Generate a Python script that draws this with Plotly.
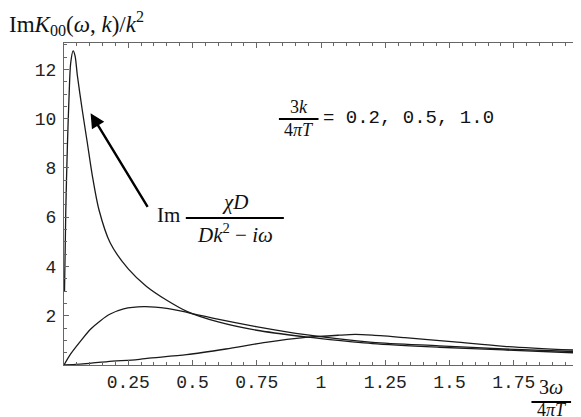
import plotly.graph_objects as go

# Im K00 / k^2 against 3w/(4 pi T)
q02_w = [0.002, 0.007, 0.0135, 0.02, 0.026, 0.0355, 0.043, 0.052, 0.071, 0.091,
         0.11, 0.136, 0.18, 0.25, 0.32, 0.40, 0.48, 0.60, 0.75, 0.94,
         1.0, 1.2, 1.46, 1.71, 2.0]
q02_im = [3.0, 6.3, 9.0, 11.0, 12.25, 12.75, 12.55, 11.75, 10.35, 9.0,
          7.7, 6.3, 4.95, 3.9, 3.2, 2.63, 2.17, 1.75, 1.41, 1.14,
          1.07, 0.87, 0.72, 0.61, 0.49]

q05_w = [0.0, 0.026, 0.066, 0.104, 0.142, 0.18, 0.232, 0.31, 0.40, 0.49,
         0.593, 0.747, 0.94, 1.2, 1.46, 1.71, 2.0]
q05_im = [0.0, 0.45, 0.99, 1.46, 1.80, 2.07, 2.28, 2.37, 2.30, 2.11,
          1.87, 1.56, 1.23, 0.92, 0.78, 0.65, 0.54]

q10_w = [0.0, 0.1, 0.17, 0.285, 0.323, 0.477, 0.63, 0.785, 0.94, 1.07,
         1.133, 1.2, 1.326, 1.519, 1.712, 2.0]
q10_im = [0.0, 0.07, 0.14, 0.22, 0.27, 0.42, 0.65, 0.92, 1.12, 1.21,
          1.24, 1.21, 1.11, 0.94, 0.76, 0.60]

x_ticks = [0.25, 0.5, 0.75, 1.0, 1.25, 1.5, 1.75, 2.0]
x_ticktext = ["0.25", "0.5", "0.75", "1", "1.25", "1.5", "1.75", "2"]
y_ticks = [2, 4, 6, 8, 10, 12]

W, H = 581, 417
L, R, T, B = 56, 6, 35, 60
PW, PH = W - L - R, H - T - B

SERIF = "Liberation Serif"
MONO = "Liberation Mono"


def px(x):
    return (x - L) / PW


def py(y):
    return (H - B - y) / PH


fig = go.Figure()
for xs, ys in [(q02_w, q02_im), (q05_w, q05_im), (q10_w, q10_im)]:
    fig.add_trace(go.Scatter(
        x=xs, y=ys, mode="lines",
        line=dict(color="#1a1a1a", width=1.3, shape="spline", smoothing=0.8),
        showlegend=False, hoverinfo="skip",
    ))

axis_common = dict(
    showline=True, linecolor="#666", linewidth=1, mirror="allticks",
    ticks="inside", ticklen=5, tickwidth=1, tickcolor="#666",
    showgrid=False, zeroline=False,
    tickfont=dict(family=MONO, size=18, color="#222"),
)
fig.update_xaxes(
    range=[0, 2], tickvals=x_ticks, ticktext=x_ticktext,
    minor=dict(ticks="inside", ticklen=3, dtick=0.05, tick0=0, tickcolor="#666"),
    **axis_common,
)
fig.update_yaxes(
    range=[0, 13.07], tickvals=y_ticks, ticklabelstandoff=3,
    minor=dict(ticks="inside", ticklen=3, dtick=0.5, tick0=0, tickcolor="#666"),
    **axis_common,
)

ann = []
# y-axis title
ann.append(dict(
    text="Im<i>K</i><sub>00</sub>(<i>ω</i>, <i>k</i>)/<i>k</i><sup>2</sup>",
    x=px(-2), y=py(15), xanchor="left", yanchor="middle",
    font=dict(family=SERIF, size=23, color="#111"),
))
# x-axis title as a fraction
ann.append(dict(text="3<i>ω</i>", x=px(548), y=py(379), xanchor="center", yanchor="middle",
                font=dict(family=SERIF, size=20, color="#111")))
ann.append(dict(text="4<i>πT</i>", x=px(549), y=py(402), xanchor="center", yanchor="middle",
                font=dict(family=SERIF, size=18, color="#111")))
# momentum values
ann.append(dict(text="3<i>k</i>", x=px(293), y=py(99), xanchor="center", yanchor="middle",
                font=dict(family=SERIF, size=18, color="#111")))
ann.append(dict(text="4<i>πT</i>", x=px(293), y=py(122), xanchor="center", yanchor="middle",
                font=dict(family=SERIF, size=18, color="#111")))
ann.append(dict(text="= 0.2, 0.5, 1.0", x=px(316), y=py(110), xanchor="left", yanchor="middle",
                font=dict(family=MONO, size=19, color="#111")))
# diffusion pole label
ann.append(dict(text="Im", x=px(162), y=py(207), xanchor="center", yanchor="middle",
                font=dict(family=SERIF, size=21, color="#111")))
ann.append(dict(text="<i>χD</i>", x=px(229), y=py(194), xanchor="center", yanchor="middle",
                font=dict(family=SERIF, size=21, color="#111")))
ann.append(dict(text="<i>Dk</i><sup>2</sup> − <i>iω</i>", x=px(229), y=py(225),
                xanchor="center", yanchor="middle",
                font=dict(family=SERIF, size=21, color="#111")))
for a in ann:
    a.update(xref="paper", yref="paper", showarrow=False)

# arrow pointing at the peak
ann.append(dict(
    text="", x=0.1035, y=10.22, xref="x", yref="y",
    ax=0.329, ay=6.36, axref="x", ayref="y",
    showarrow=True, arrowhead=2, arrowsize=1.2, arrowwidth=2.4,
    arrowcolor="#000", standoff=0,
))
fig.update_layout(annotations=ann)

# fraction bars
for x0, x1, y in [(179, 278, 210), (273, 313, 111), (528, 568, 394)]:
    fig.add_shape(type="line", xref="paper", yref="paper",
                  x0=px(x0), x1=px(x1), y0=py(y), y1=py(y),
                  line=dict(color="#000", width=2))

fig.update_layout(
    width=W, height=H,
    margin=dict(l=L, r=R, t=T, b=B),
    paper_bgcolor="white", plot_bgcolor="white",
)

fig.write_html("out.html")
